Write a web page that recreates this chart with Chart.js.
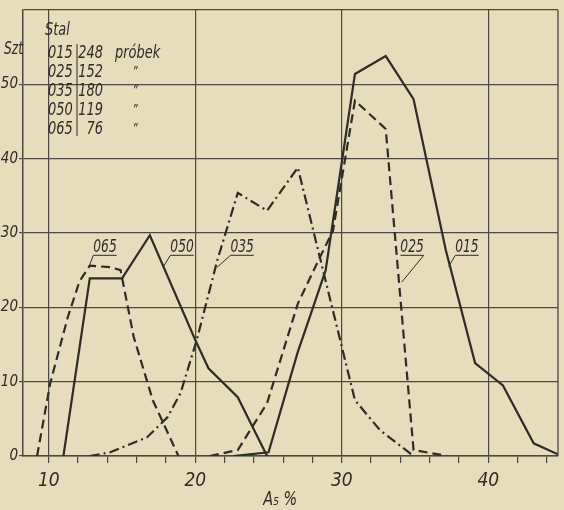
<!DOCTYPE html>
<html>
<head>
<meta charset="utf-8">
<script src="https://cdn.jsdelivr.net/npm/chart.js@4.4.1/dist/chart.umd.min.js"></script>
<style>
  html, body { margin: 0; padding: 0; background: #e7dcbc; }
</style>
</head>
<body>
<canvas id="cntWykres_A5" width="564" height="510"></canvas>
<script>
  // rozklad wydluzenia A5 dla gatunkow stali (odczyt z wykresu)
  const x015 = [22.6, 25.0, 26.3, 27.0, 27.9, 28.9, 30.9, 33.0, 34.9, 37.1, 39.1, 41.0, 43.1, 45.0];
  const y015 = [0, 0.5, 9.3, 14.0, 19.2, 25.0, 51.4, 53.8, 48.0, 27.7, 12.5, 9.5, 1.7, 0];

  const x025 = [21.0, 22.9, 24.9, 27.0, 28.5, 29.4, 30.9, 33.0, 34.9, 37.2];
  const y025 = [0, 0.8, 7.1, 20.5, 26.7, 30.3, 47.8, 44.0, 0.8, 0];

  const x035 = [12.8, 14.2, 16.7, 18.1, 19.0, 20.1, 21.5, 22.9, 24.9, 27.0, 30.9, 32.6, 34.9];
  const y035 = [0, 0.5, 2.5, 5.2, 8.5, 15.6, 26.3, 35.4, 33.0, 38.8, 7.5, 3.5, 0];

  const x050 = [11.0, 12.8, 15.0, 16.9, 20.0, 20.9, 22.9, 24.9];
  const y050 = [0, 23.9, 23.9, 29.7, 15.6, 11.8, 7.9, 0];

  const x065 = [9.2, 10.1, 11.3, 12.1, 12.8, 14.2, 14.9, 15.8, 17.1, 18.85];
  const y065 = [0, 9.8, 18.7, 23.5, 25.6, 25.4, 25.0, 16.0, 7.5, 0];

  const gatunki = ['015', '025', '035', '050', '065'];
  const probki = [248, 152, 180, 119, 76];

  const xTicks = [10, 12, 14, 16, 18, 20, 22, 24, 26, 28, 30, 32, 34, 36, 38, 40, 42, 44];
  const yTicks = [0, 10, 20, 30, 40, 50, 60];

  const kolorLinii = '#2f2b26';
  const kolorSiatki = '#4d4841';
  const czcionka = "'Liberation Sans Narrow', 'DejaVu Sans Condensed', 'Liberation Sans', sans-serif";
  const scisk = 0.8; // zwezenie pisma jak w oryginale

  function punkty(xs, ys) {
    return xs.map((x, i) => ({ x: x, y: ys[i] }));
  }

  // tekst zwezony w poziomie; align: left / right / center
  function pisz(ctx, t, x, y, align) {
    const w = ctx.measureText(t).width * scisk;
    let x0 = x;
    if (align === 'right') x0 = x - w;
    if (align === 'center') x0 = x - w / 2;
    ctx.save();
    ctx.textAlign = 'left';
    ctx.translate(x0, y);
    ctx.scale(scisk, 1);
    ctx.fillText(t, 0, 0);
    ctx.restore();
    return w;
  }

  // podpisy krzywych: tekst, polozenie podkreslenia i koniec odnosnika
  const podpisy = [
    { text: '065', x: 13.04, y: 27.0, lx: 12.75, ly: 25.5, od: 'start' },
    { text: '050', x: 18.3, y: 27.0, lx: 17.8, ly: 25.4, od: 'start' },
    { text: '035', x: 22.4, y: 27.0, lx: 21.5, ly: 25.4, od: 'start' },
    { text: '025', x: 34.0, y: 27.0, lx: 34.1, ly: 23.4, od: 'end' },
    { text: '015', x: 37.75, y: 27.0, lx: 37.3, ly: 25.5, od: 'start' }
  ];

  const pluginOpisy = {
    id: 'opisy',
    afterDatasetsDraw(chart) {
      const ctx = chart.ctx, sx = chart.scales.x, sy = chart.scales.y, a = chart.chartArea;
      ctx.save();
      // ramka z prawej
      ctx.strokeStyle = kolorSiatki;
      ctx.lineWidth = 1.3;
      ctx.beginPath();
      ctx.moveTo(a.right, a.top);
      ctx.lineTo(a.right, a.bottom);
      ctx.stroke();

      // podpisy krzywych
      ctx.fillStyle = kolorLinii;
      ctx.strokeStyle = kolorLinii;
      ctx.lineWidth = 1;
      ctx.font = 'italic 17px ' + czcionka;
      ctx.textBaseline = 'alphabetic';
      podpisy.forEach(p => {
        const px = sx.getPixelForValue(p.x), py = sy.getPixelForValue(p.y);
        const w = pisz(ctx, p.text, px, py - 3, 'left');
        ctx.beginPath();
        ctx.moveTo(px, py);
        ctx.lineTo(px + w, py);
        const sxp = p.od === 'end' ? px + w : px;
        ctx.moveTo(sxp, py);
        ctx.lineTo(sx.getPixelForValue(p.lx), sy.getPixelForValue(p.ly));
        ctx.stroke();
      });

      // jednostka osi y
      ctx.font = 'italic 17px ' + czcionka;
      pisz(ctx, 'Szt', 4, sy.getPixelForValue(55) + 7, 'left');

      // tabelka liczby probek
      const L = a.left, T = a.top;
      ctx.font = 'italic 18px ' + czcionka;
      pisz(ctx, 'Stal', L + 22, T + 25, 'left');
      gatunki.forEach((g, i) => {
        const by = T + 48 + i * 19;
        ctx.font = 'italic 18px ' + czcionka;
        pisz(ctx, g, L + 25, by, 'left');
        pisz(ctx, String(probki[i]), L + 80, by, 'right');
        if (i === 0) {
          pisz(ctx, 'próbek', L + 92, by, 'left');
        } else {
          ctx.font = 'italic 14px ' + czcionka;
          pisz(ctx, '\u201D', L + 112, by - 1, 'center');
        }
      });
      ctx.beginPath();
      ctx.moveTo(L + 54, T + 34);
      ctx.lineTo(L + 54, T + 126);
      ctx.stroke();

      // opis osi x
      ctx.font = 'italic 20px ' + czcionka;
      pisz(ctx, 'A\u2085 %', sx.getPixelForValue(25.8), a.bottom + 49, 'center');
      ctx.restore();
    }
  };

  const styl = (dash) => ({
    borderColor: kolorLinii,
    borderWidth: 2.2,
    borderDash: dash,
    pointRadius: 0,
    tension: 0,
    fill: false
  });

  const config = {
    type: 'line',
    data: {
      datasets: [
        Object.assign({ label: '015', data: punkty(x015, y015) }, styl([])),
        Object.assign({ label: '025', data: punkty(x025, y025) }, styl([9, 5])),
        Object.assign({ label: '035', data: punkty(x035, y035) }, styl([10, 4, 2, 4])),
        Object.assign({ label: '050', data: punkty(x050, y050) }, styl([])),
        Object.assign({ label: '065', data: punkty(x065, y065) }, styl([9, 5]))
      ]
    },
    options: {
      responsive: false,
      animation: false,
      layout: { padding: { left: 0, top: 8, right: 6, bottom: 0 } },
      plugins: { legend: { display: false }, tooltip: { enabled: false } },
      scales: {
        x: {
          type: 'linear',
          min: 8.24,
          max: 44.76,
          afterBuildTicks: (s) => { s.ticks = xTicks.map(v => ({ value: v })); },
          afterFit: (s) => { s.height = 54; },
          border: { display: true, color: kolorSiatki, width: 1.5 },
          grid: {
            color: (c) => (c.tick && c.tick.value % 10 === 0) ? kolorSiatki : 'rgba(0,0,0,0)',
            tickColor: kolorSiatki,
            lineWidth: 1.2,
            tickLength: 7
          },
          ticks: {
            autoSkip: false,
            maxRotation: 0,
            padding: 7,
            color: kolorLinii,
            font: { family: czcionka, size: 19, style: 'italic' },
            callback: (v) => (v % 10 === 0 ? String(v) : '')
          }
        },
        y: {
          type: 'linear',
          min: 0,
          max: 60,
          afterBuildTicks: (s) => { s.ticks = yTicks.map(v => ({ value: v })); },
          afterFit: (s) => { s.width = 23; },
          border: { display: true, color: kolorSiatki, width: 1.5 },
          grid: {
            color: kolorSiatki,
            tickColor: (c) => (c.tick && c.tick.value === 60) ? 'rgba(0,0,0,0)' : kolorSiatki,
            lineWidth: 1.2,
            tickLength: 4
          },
          ticks: {
            autoSkip: false,
            padding: 1,
            color: kolorLinii,
            font: { family: czcionka, size: 15, style: 'italic' },
            callback: (v) => (v === 60 ? '' : String(v))
          }
        }
      }
    },
    plugins: [pluginOpisy]
  };

  const ctx = document.getElementById('cntWykres_A5').getContext('2d');
  window.wykresA5 = new Chart(ctx, config);
</script>
</body>
</html>
